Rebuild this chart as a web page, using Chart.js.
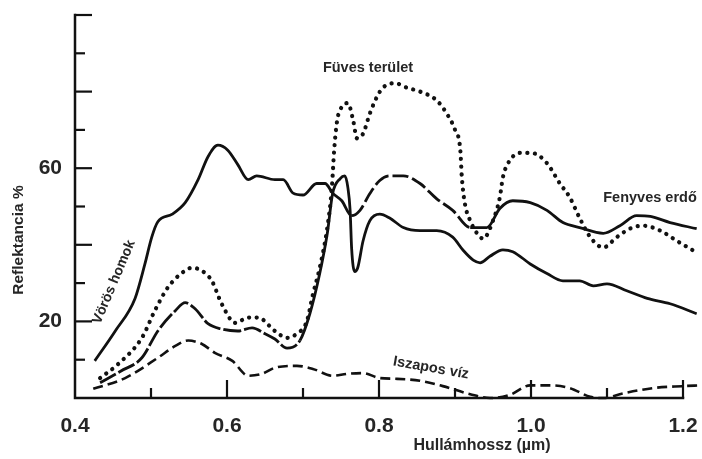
<!DOCTYPE html>
<html><head><meta charset="utf-8">
<script src="https://cdn.jsdelivr.net/npm/chart.js@4.4.1/dist/chart.umd.min.js"></script>
<style>html,body{margin:0;padding:0;background:#fff;}#wrap{width:702px;height:459px;}</style>
</head><body><div id="wrap"><canvas id="c" width="702" height="459"></canvas></div>
<script>
// Vörös homok (red sand)
const sandWl  = [0.426,0.453,0.479,0.492,0.501,0.509,0.528,0.545,0.562,0.575,0.588,0.601,0.614,0.628,0.639,0.663,0.674,0.687,0.700,0.718,0.729,0.739,0.751,0.764,0.775,0.788,0.801,0.814,0.832,0.854,0.876,0.897,0.920,0.942,0.959,0.976,0.999,1.021,1.042,1.064,1.095,1.117,1.139,1.157,1.183,1.218];
const sandVal = [9.7,17.5,26,35,42,46,48,51,57,63,66,64.7,61,57,58,57,57,53.5,53,56,56,53.5,51.5,47.6,49,53.4,56.8,58,58,56,52,49,44.5,44.5,49.5,51.5,51,49,45.8,44.5,43,45,47.6,47.4,45.8,44.2];
// Fenyves erdő (pine forest)
const pineWl  = [0.433,0.460,0.488,0.509,0.532,0.545,0.558,0.575,0.593,0.614,0.633,0.650,0.663,0.679,0.696,0.709,0.722,0.732,0.739,0.749,0.755,0.759,0.762,0.764,0.768,0.772,0.779,0.788,0.801,0.814,0.832,0.854,0.876,0.897,0.911,0.924,0.933,0.946,0.963,0.976,0.999,1.021,1.042,1.064,1.082,1.100,1.126,1.153,1.183,1.218];
const pineVal = [4,7,10.5,17.5,22.8,24.9,23.3,19.4,18,17.5,18.3,16.8,15.4,13,15,22,32.5,43,53.4,57.3,58,55,49,39,33,34,41,46.3,48,47,44.5,43.7,43.7,42,38.5,36,35.3,37,38.7,38.2,35,32.5,30.6,30.6,29.3,29.8,28,26,24.6,22];
// Füves terület (grassland)
const grassWl  = [0.433,0.457,0.488,0.505,0.522,0.541,0.554,0.567,0.580,0.593,0.611,0.628,0.641,0.663,0.679,0.692,0.705,0.713,0.722,0.732,0.738,0.741,0.745,0.751,0.759,0.766,0.771,0.779,0.788,0.797,0.805,0.821,0.837,0.854,0.876,0.889,0.900,0.907,0.909,0.913,0.920,0.929,0.937,0.950,0.959,0.963,0.972,0.986,1.003,1.021,1.038,1.051,1.064,1.078,1.095,1.113,1.130,1.147,1.170,1.192,1.218];
const grassVal = [5.2,8.9,15.7,22.8,28.8,32.7,34,33.2,30.6,24.6,19.6,21,21,17.5,15.7,16.8,20,27,34,44.5,55,64.7,72.5,76,77,72.5,67.8,69,74.3,78.5,81,82.2,81,80,77.7,74.3,70,64.7,57.6,50.8,46.3,43,41.6,46.3,52.4,57.6,62,64,63.9,61.3,56,52.4,47,42,39.3,42,44.2,45,43.7,41,38];
// Iszapos víz (silty water)
const waterWl  = [0.424,0.466,0.509,0.532,0.549,0.567,0.584,0.607,0.628,0.646,0.663,0.692,0.713,0.739,0.758,0.779,0.801,0.824,0.854,0.884,0.920,0.946,0.972,0.999,1.025,1.051,1.078,1.095,1.121,1.161,1.200,1.222];
const waterVal = [2.4,5.2,10.5,13.6,15,14.1,11.8,9.7,5.8,6.3,7.9,8.4,7.6,5.8,6.3,6.5,5.2,5,4.5,3.1,1,0,0.8,3.3,3.3,2.6,0.3,0,1.2,2.6,3.1,3.3];

const xMajorTicks = [0.4,0.6,0.8,1.0,1.2];
const xMinorTicks = [0.5,0.7,0.9,1.1];
const xTickLabels = ['0.4','0.6','0.8','1.0','1.2'];
const yMajorTicks = [20,40,60,80,100];
const yMinorTicks = [10,30,50,70,90];
const yLabelTicks = [60,20];
const yTickLabels = ['60','20'];
const xTitle = 'Hullámhossz (µm)';
const yTitle = 'Reflektancia %';
const seriesNames = ['Vörös homok','Fenyves erdő','Füves terület','Iszapos víz'];

const pts = (xs, ys) => xs.map((x, i) => ({x, y: ys[i]}));
const INK = '#111';
const TXT = '#262626';

const axesPlugin = {
  id: 'axesPlugin',
  afterDraw(chart) {
    const ctx = chart.ctx, xs = chart.scales.x, ys = chart.scales.y;
    const x0 = xs.getPixelForValue(0.4), x1 = xs.getPixelForValue(1.2);
    const yb = ys.getPixelForValue(0), yt = ys.getPixelForValue(100);
    ctx.save();
    ctx.strokeStyle = INK; ctx.lineWidth = 2.5; ctx.lineCap = 'square';
    ctx.beginPath(); ctx.moveTo(x0, yt); ctx.lineTo(x0, yb); ctx.lineTo(x1, yb); ctx.stroke();
    ctx.lineWidth = 2.2; ctx.lineCap = 'butt';
    yMajorTicks.forEach(v => { const y = ys.getPixelForValue(v); ctx.beginPath(); ctx.moveTo(x0, y); ctx.lineTo(x0 + 17, y); ctx.stroke(); });
    yMinorTicks.forEach(v => { const y = ys.getPixelForValue(v); ctx.beginPath(); ctx.moveTo(x0, y); ctx.lineTo(x0 + 10, y); ctx.stroke(); });
    xMajorTicks.slice(1).forEach(v => { const x = xs.getPixelForValue(v); ctx.beginPath(); ctx.moveTo(x, yb); ctx.lineTo(x, yb - 18); ctx.stroke(); });
    xMinorTicks.forEach(v => { const x = xs.getPixelForValue(v); ctx.beginPath(); ctx.moveTo(x, yb); ctx.lineTo(x, yb - 10); ctx.stroke(); });
    // tick labels
    ctx.fillStyle = TXT;
    ctx.font = 'bold 21px "Liberation Sans", Arial, sans-serif';
    ctx.textAlign = 'center'; ctx.textBaseline = 'middle';
    xMajorTicks.forEach((v, i) => ctx.fillText(xTickLabels[i], xs.getPixelForValue(v), 426));
    ctx.textAlign = 'right';
    yLabelTicks.forEach((v, i) => ctx.fillText(yTickLabels[i], 62, ys.getPixelForValue(v)));
    // axis titles
    ctx.font = 'bold 16px "Liberation Sans", Arial, sans-serif';
    ctx.textAlign = 'center';
    ctx.fillText(xTitle, 482, 446);
    ctx.font = 'bold 15.5px "Liberation Sans", Arial, sans-serif';
    ctx.save(); ctx.translate(19, 240); ctx.rotate(-Math.PI / 2); ctx.fillText(yTitle, 0, 0); ctx.restore();
    // curve annotations
    ctx.font = 'bold 14.5px "Liberation Sans", Arial, sans-serif';
    ctx.fillText(seriesNames[2], 368, 68);
    ctx.fillText(seriesNames[1], 650, 198);
    ctx.save(); ctx.translate(431, 368); ctx.rotate(10 * Math.PI / 180); ctx.fillText(seriesNames[3], 0, 0); ctx.restore();
    ctx.font = 'bold 14px "Liberation Sans", Arial, sans-serif';
    ctx.save(); ctx.translate(114, 282); ctx.rotate(-67 * Math.PI / 180); ctx.fillText(seriesNames[0], 0, 0); ctx.restore();
    ctx.restore();
  }
};

const xFix = s => { s.min = 0.4; s.max = 1.2; };

new Chart(document.getElementById('c'), {
  type: 'line',
  data: {
    datasets: [
      { label: seriesNames[0], data: pts(sandWl, sandVal), borderColor: INK, borderWidth: 2.8,
        segment: { borderDash: c => (c.p0.parsed.x >= 0.752 && c.p0.parsed.x < 0.92) ? [16, 4] : [] } },
      { label: seriesNames[1], data: pts(pineWl, pineVal), borderColor: INK, borderWidth: 2.8,
        segment: { borderDash: c => (c.p0.parsed.x < 0.69) ? [18, 3] : [] } },
      { label: seriesNames[2], data: pts(grassWl, grassVal), borderColor: INK, borderWidth: 4.2,
        borderDash: [0.1, 7.5], borderCapStyle: 'round' },
      { label: seriesNames[3], data: pts(waterWl, waterVal), borderColor: INK, borderWidth: 2.6,
        borderDash: [10, 5] }
    ]
  },
  options: {
    responsive: false, animation: false, devicePixelRatio: 1,
    layout: { padding: { left: 75, right: 19, top: 15, bottom: 61 } },
    elements: { point: { radius: 0 }, line: { cubicInterpolationMode: 'monotone', fill: false } },
    datasets: { line: { clip: false } },
    plugins: { legend: { display: false }, tooltip: { enabled: false } },
    scales: {
      x: { type: 'linear', display: false, afterDataLimits: xFix },
      y: { type: 'linear', display: false, min: 0, max: 100 }
    }
  },
  plugins: [axesPlugin]
});
</script></body></html>
